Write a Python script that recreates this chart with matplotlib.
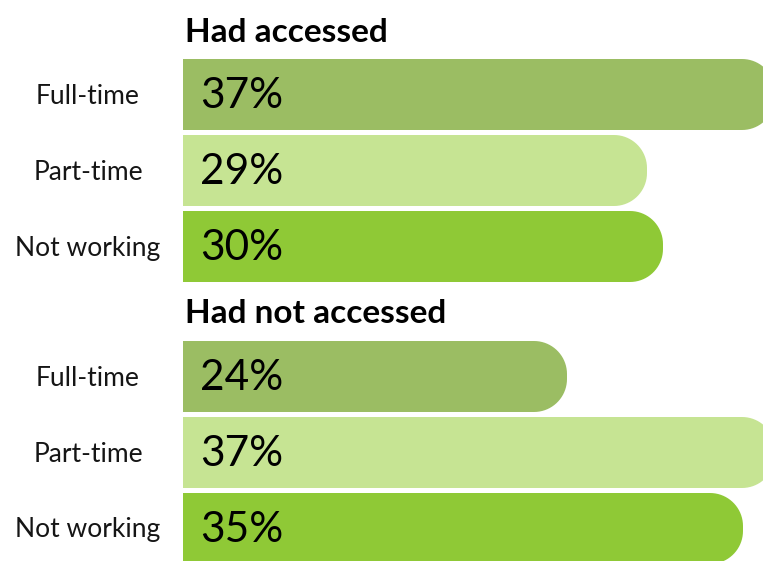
import numpy as np
import matplotlib
matplotlib.use("Agg")
import matplotlib.pyplot as plt
from matplotlib.patches import Polygon

groups = ["Had accessed", "Had not accessed"]
categories = ["Full-time", "Part-time", "Not working"]
accessed = [37, 29, 30]
not_accessed = [24, 37, 35]
values = [accessed, not_accessed]

colors = ["#9BBD63", "#C6E493", "#8FC936"]

plt.rcParams['font.family'] = ['Lato', 'DejaVu Sans']

W, H = 763, 561
PX = 16.0          # pixels per percentage point
X0 = 183           # pixel where the bars start
BAR_H = 71
STEP = 76
R = 33             # corner radius in pixels


def rounded_bar(ax, value, top, color):
    """Bar with square left end and rounded right end."""
    bottom = top + BAR_H
    rx = R / PX
    cx = value - rx
    t = np.linspace(np.pi / 2, 0, 20)
    upper = np.column_stack([cx + rx * np.cos(t), top + R - R * np.sin(t)])
    t2 = np.linspace(0, np.pi / 2, 20)
    lower = np.column_stack([cx + rx * np.cos(t2), bottom - R + R * np.sin(t2)])
    verts = np.vstack([[0, top], upper, lower, [0, bottom]])
    ax.add_patch(Polygon(verts, closed=True, facecolor=color, edgecolor="none"))


fig = plt.figure(figsize=(W / 100, H / 100), dpi=100)
ax = fig.add_axes([0, 0, 1, 1])
ax.set_xlim(-X0 / PX, (W - X0) / PX)
ax.set_ylim(H, 0)
ax.axis("off")

group_tops = [59, 341]
heading_base = [42, 323]

for g, name in enumerate(groups):
    ax.text(0.1, heading_base[g], name, fontsize=24, fontweight="bold",
            ha="left", va="baseline", color="black")
    for i, cat in enumerate(categories):
        top = group_tops[g] + i * STEP
        yc = top + BAR_H / 2
        v = values[g][i]
        rounded_bar(ax, v, top, colors[i])
        ax.text((88 - X0) / PX, yc + 9, cat, fontsize=19, ha="center",
                va="baseline", color="#151515")
        ax.text(17 / PX, yc + 13, f"{v}%", fontsize=30.5,
                ha="left", va="baseline", color="black")

fig.savefig("out.png", dpi=100)
